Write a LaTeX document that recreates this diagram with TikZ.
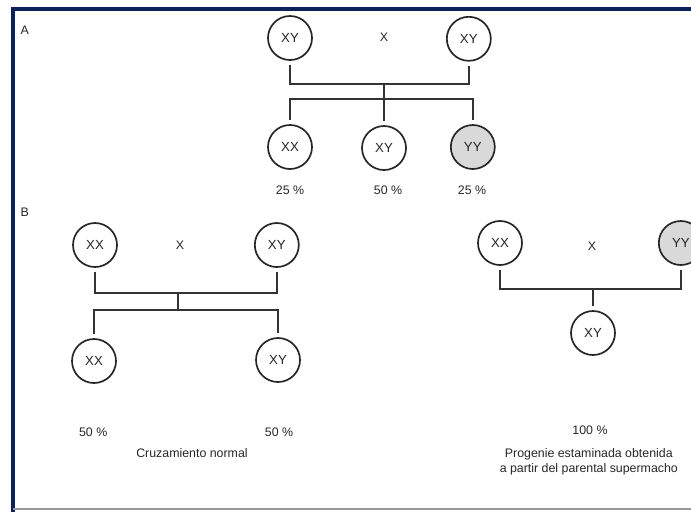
\documentclass[tikz,border=0pt]{standalone}
\usepackage{fontspec}
\setmainfont{Liberation Sans}
\begin{document}
\begin{tikzpicture}
        \tikzstyle{geno} = [shape = circle, draw = black!85, line width=1.2pt, minimum size=1.1cm, inner sep=0pt, outer sep=3.5pt, text=black!85, font=\fontsize{9.4}{10}\selectfont]
        \tikzstyle{geno_super} = [geno, fill = black!15]
        \tikzstyle{label_txt} = [text=black!85, font=\fontsize{8.8}{10.5}\selectfont]
        \tikzstyle{link} = [draw = black!80, line width=1.4pt]

        \useasboundingbox (0,0) rectangle (17.275,-12.775);
        \clip (0,0) rectangle (17.275,-12.775);

        % frame
        \draw[color={rgb,255:red,10;green,34;blue,88}, line width=0.1cm]
          (17.6,-0.22) -- (0.32,-0.22) -- (0.32,-12.8);
        \draw[black!40, line width=0.05cm] (0.32,-12.73) -- (17.6,-12.73);

        % A
        \node[label_txt] at (0.62, -0.75) (labA) {A};

        \node[geno] at (7.25, -0.95) (pA1) {XY};

        \node[label_txt] at (9.6, -0.92) (xA) {X};

        \node[geno] at (11.72, -0.97) (pA2) {XY};

        \coordinate (jA) at (9.6, -2.1);
        \coordinate (jA2) at (9.6, -2.475);

        \node[geno] at (7.25, -3.675) (cA1) {XX};

        \node[geno] at (9.6, -3.7) (cA2) {XY};

        \node[geno_super] at (11.82, -3.675) (cA3) {YY};

        \node[label_txt] at (7.25, -4.75) (pctA1) {25 \%};

        \node[label_txt] at (9.7, -4.75) (pctA2) {50 \%};

        \node[label_txt] at (11.8, -4.75) (pctA3) {25 \%};

        \draw[link]
          (pA1.south) |- (jA) -| (pA2.south)
          (jA) -- (cA2.north)
          (cA1.north) |- (jA2) -| (cA3.north)
        ;

        % B
        \node[label_txt] at (0.62, -5.3) (labB) {B};

        \node[geno] at (2.375, -6.125) (pB1) {XX};

        \node[label_txt] at (4.5, -6.125) (xB) {X};

        \node[geno] at (6.92, -6.125) (pB2) {XY};

        \coordinate (jB) at (4.45, -7.325);
        \coordinate (jB2) at (4.45, -7.75);

        \node[geno] at (2.35, -9.025) (cB1) {XX};

        \node[geno] at (6.95, -9.0) (cB2) {XY};

        \node[label_txt] at (2.33, -10.8) (pctB1) {50 \%};

        \node[label_txt] at (6.975, -10.8) (pctB2) {50 \%};

        \node[label_txt] at (4.8, -11.33) (capB) {Cruzamiento normal};

        \draw[link]
          (pB1.south) |- (jB) -| (pB2.south)
          (jB) -- (jB2)
          (cB1.north) |- (jB2) -| (cB2.north)
        ;

        \node[geno] at (12.5, -6.075) (pC1) {XX};

        \node[label_txt] at (14.8, -6.15) (xC) {X};

        \node[geno_super] at (17.02, -6.075) (pC2) {YY};

        \coordinate (jC) at (14.825, -7.225);

        \node[geno] at (14.825, -8.325) (cC) {XY};

        \node[label_txt] at (14.75, -10.75) (pctC) {100 \%};

        \node[label_txt, align=center] at (14.72, -11.55) (capC) {Progenie estaminada obtenida\\a partir del parental supermacho};

        \draw[link]
          (pC1.south) |- (jC) -| (pC2.south)
          (jC) -- (cC.north)
        ;
      \end{tikzpicture}
\end{document}
